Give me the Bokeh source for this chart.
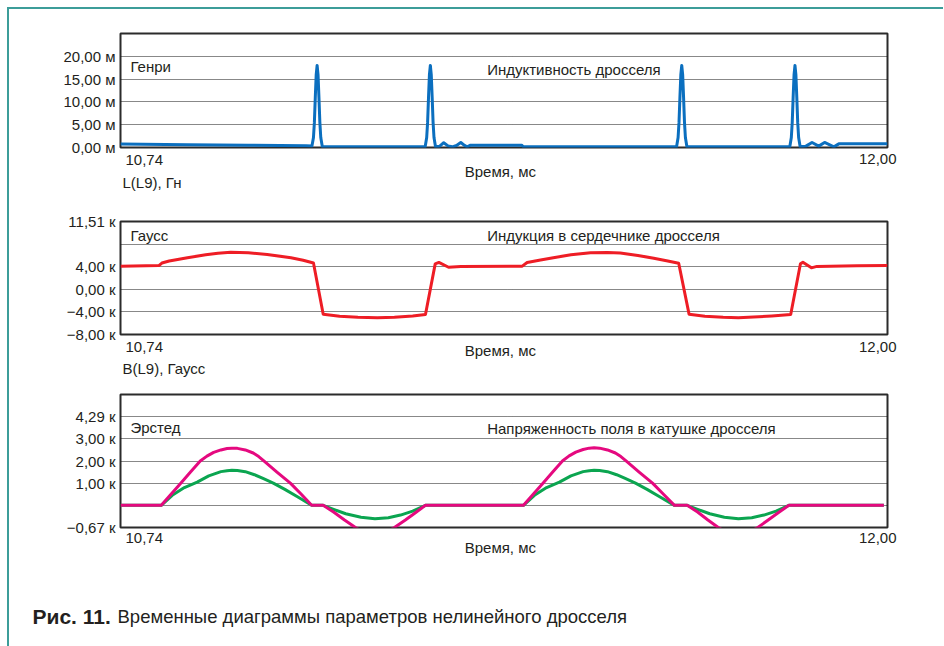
from bokeh.plotting import figure
from bokeh.models import Label, FixedTicker, Range1d
from bokeh.layouts import column
from bokeh.embed import file_html
from bokeh.resources import INLINE

# ---------------- data ----------------
x_start, x_end = 10.74, 12.00
x_tick_labels = ["10,74", "12,00"]
x_title = "Время, мс"

# Panel 1: inductance L(L9), mH
l_time = [10.74, 10.85, 10.95, 11.045,
          11.0545, 11.057, 11.0585, 11.060, 11.0615, 11.063, 11.0645, 11.066, 11.0675, 11.069, 11.0715,
          11.10, 11.20, 11.2405,
          11.243, 11.2445, 11.246, 11.2475, 11.249, 11.2505, 11.252, 11.2535, 11.255, 11.2575,
          11.264, 11.271, 11.278, 11.285, 11.292, 11.299, 11.305, 11.3096, 11.315, 11.399, 11.402,
          11.50, 11.60, 11.6535,
          11.656, 11.6575, 11.659, 11.6605, 11.662, 11.6635, 11.665, 11.6665, 11.668, 11.6705,
          11.75, 11.8395,
          11.842, 11.8435, 11.845, 11.8465, 11.848, 11.8495, 11.851, 11.8525, 11.854, 11.8565,
          11.866, 11.876, 11.887, 11.8966, 11.912, 11.920, 12.00]
l_value = [0.75, 0.6, 0.5, 0.38,
           0.35, 2.2, 5.5, 11.0, 16.0, 18.0, 16.0, 11.0, 5.5, 2.2, 0.2,
           0.15, 0.15, 0.15,
           2.2, 5.5, 11.0, 16.0, 18.0, 16.0, 11.0, 5.5, 2.2, 0.15,
           0.25, 1.05, 0.35, 0.15, 0.45, 1.1, 0.45, 0.15, 0.5, 0.5, 0.15,
           0.15, 0.15, 0.15,
           2.2, 5.5, 11.0, 16.0, 18.0, 16.0, 11.0, 5.5, 2.2, 0.15,
           0.15, 0.15,
           2.2, 5.5, 11.0, 16.0, 18.0, 16.0, 11.0, 5.5, 2.2, 0.15,
           0.3, 1.1, 0.3, 1.1, 0.15, 0.8, 0.8]
l_ticks = [0, 5, 10, 15, 20]
l_tick_labels = ["0,00 м", "5,00 м", "10,00 м", "15,00 м", "20,00 м"]
l_range = (0, 25)

# Panel 2: flux density B(L9), kGauss
b_time = [10.74, 10.803, 10.808, 10.82, 10.85, 10.88, 10.90, 10.921, 10.95, 10.981, 11.02, 11.04, 11.057,
          11.073, 11.10, 11.13, 11.162, 11.19, 11.22, 11.241,
          11.257, 11.263, 11.279, 11.299, 11.40,
          11.408, 11.43, 11.451, 11.48, 11.512, 11.54, 11.561, 11.59, 11.616, 11.637, 11.657,
          11.674, 11.70, 11.73, 11.755, 11.78, 11.81, 11.841,
          11.857, 11.861, 11.875, 11.884, 11.95, 12.00]
b_value = [4.1, 4.2, 4.65, 5.0, 5.6, 6.1, 6.4, 6.55, 6.45, 6.17, 5.6, 5.15, 4.65,
           -4.4, -4.75, -4.95, -5.05, -4.95, -4.72, -4.46,
           4.5, 4.75, 3.9, 4.05, 4.1,
           4.75, 5.2, 5.6, 6.1, 6.45, 6.5, 6.42, 6.0, 5.5, 5.05, 4.6,
           -4.4, -4.75, -4.95, -5.05, -4.92, -4.72, -4.46,
           4.53, 4.8, 3.8, 4.05, 4.15, 4.2]
b_ticks = [-8, -4, 0, 4, 8, 12]
b_tick_labels = ["−8,00 к", "−4,00 к", "0,00 к", "4,00 к", "", "11,51 к"]
b_range = (-8, 12)

# Panel 3: field strength H, kOe (two traces)
h_time_mag = [10.74, 10.807, 10.823, 10.839, 10.855, 10.871, 10.882, 10.893, 10.905, 10.915, 10.923, 10.932,
              10.945, 10.958, 10.967, 10.975, 10.997, 11.019, 11.037, 11.054,
              11.073, 11.09, 11.108, 11.126, 11.142, 11.158, 11.174, 11.19, 11.208, 11.225, 11.241,
              11.402, 11.418, 11.434, 11.45, 11.466, 11.477, 11.488, 11.50, 11.510, 11.518, 11.527,
              11.540, 11.553, 11.562, 11.570, 11.592, 11.614, 11.632, 11.650,
              11.671, 11.688, 11.705, 11.722, 11.738, 11.754, 11.770, 11.787, 11.804, 11.821, 11.838,
              11.994]
h_value_mag = [0, 0, 0.5, 1.0, 1.5, 2.0, 2.22, 2.39, 2.5, 2.56, 2.58, 2.57,
               2.5, 2.36, 2.2, 2.02, 1.5, 1.0, 0.5, 0,
               0, -0.3, -0.66, -1.0, -1.25, -1.35, -1.25, -1.0, -0.66, -0.32, 0,
               0, 0.5, 1.0, 1.5, 2.0, 2.23, 2.4, 2.52, 2.58, 2.6, 2.58,
               2.5, 2.36, 2.2, 2.02, 1.5, 1.0, 0.5, 0,
               0, -0.3, -0.66, -1.0, -1.25, -1.35, -1.25, -1.0, -0.66, -0.32, 0,
               0]
h_time_grn = [10.74, 10.807, 10.825, 10.845, 10.866, 10.885, 10.905, 10.915, 10.923, 10.932, 10.945, 10.96,
              10.975, 10.991, 11.01, 11.03, 11.054,
              11.073, 11.09, 11.11, 11.135, 11.158, 11.18, 11.20, 11.22, 11.241,
              11.402, 11.42, 11.44, 11.461, 11.48, 11.50, 11.510, 11.518, 11.527, 11.540, 11.555,
              11.57, 11.586, 11.605, 11.625, 11.650,
              11.671, 11.688, 11.708, 11.732, 11.755, 11.777, 11.797, 11.817, 11.838, 11.994]
h_value_grn = [0, 0, 0.45, 0.8, 1.05, 1.33, 1.52, 1.56, 1.58, 1.57, 1.52, 1.38,
               1.2, 1.0, 0.72, 0.4, 0,
               0, -0.18, -0.38, -0.54, -0.61, -0.56, -0.44, -0.26, 0,
               0, 0.45, 0.8, 1.05, 1.33, 1.52, 1.56, 1.58, 1.57, 1.52, 1.38,
               1.2, 1.0, 0.72, 0.4, 0,
               0, -0.18, -0.38, -0.54, -0.61, -0.56, -0.44, -0.26, 0, 0]
h_ticks = [-1, 0, 1, 2, 3, 4]
h_tick_labels = ["−0,67 к", "", "1,00 к", "2,00 к", "3,00 к", "4,29 к"]
h_range = (-1, 5)

panel_units = ["Генри", "Гаусс", "Эрстед"]
panel_titles = ["Индуктивность дросселя", "Индукция в сердечнике дросселя",
                "Напряженность поля в катушке дросселя"]
trace_names = ["L(L9), Гн", "B(L9), Гаусс"]
caption_bold = "Рис. 11."
caption_text = "Временные диаграммы параметров нелинейного дросселя"

# ---------------- style / layout ----------------
FONT = "Liberation Sans"
TXT = "#231f20"
BLUE = "#0b6fbf"
RED = "#ee1d25"
MAGENTA = "#e5097f"
GREEN = "#0ba550"
TEAL = "#3c9d99"
W = 934
BL, FW = 111, 767            # left border and frame width of every panel
BR = W - BL - FW
PX_PER_MS = FW / (x_end - x_start)
OVERLAP = 12                 # text strips slide up over the panel's bottom border


def make_panel(height, top, frame_h, yr, ticks, labels):
    bottom = height - top - frame_h
    p = figure(width=W, height=height, output_backend="svg", toolbar_location=None,
               x_range=Range1d(x_start, x_end), y_range=Range1d(*yr),
               x_axis_location=None, min_border_left=BL, min_border_right=BR,
               min_border_top=top, min_border_bottom=bottom, title=None)
    p.frame_align = False
    p.background_fill_color = "white"
    p.border_fill_color = "white"
    p.outline_line_color = "#2b2b2b"
    p.outline_line_width = 2
    ax = p.yaxis[0]
    ax.ticker = FixedTicker(ticks=ticks)
    ax.major_label_overrides = {t: s for t, s in zip(ticks, labels)}
    ax.axis_line_color = None
    ax.major_tick_line_color = None
    ax.minor_tick_line_color = None
    ax.major_tick_out = 0
    ax.major_tick_in = 0
    ax.major_label_standoff = 5
    ax.major_label_text_font = FONT
    ax.major_label_text_font_size = "15px"
    ax.major_label_text_color = TXT
    p.xgrid.visible = False
    p.ygrid.ticker = FixedTicker(ticks=ticks)
    p.ygrid.grid_line_color = "#111111"
    p.ygrid.grid_line_dash = "1 1"
    p.ygrid.grid_line_width = 1
    return p


def make_strip(height):
    # transparent text strip laid over the bottom edge of a panel, sharing its time scale
    p = figure(width=W, height=height, output_backend="svg", toolbar_location=None,
               x_range=Range1d(x_start - BL / PX_PER_MS, x_start + (W - BL) / PX_PER_MS),
               y_range=Range1d(height, 0),
               x_axis_location=None, y_axis_location=None, min_border=0,
               min_border_left=0, min_border_right=0, min_border_top=0, min_border_bottom=0,
               title=None, styles={"margin-top": f"-{OVERLAP}px"})
    p.frame_align = False
    p.outline_line_color = None
    p.background_fill_color = None
    p.border_fill_color = None
    p.grid.visible = False
    return p


def lab(p, text, x, y, xo=0, yo=0, align="left", size="15px", style="normal"):
    p.add_layout(Label(x=x, y=y, x_offset=xo, y_offset=yo, text=text, text_align=align,
                       text_baseline="middle", text_font=FONT, text_font_size=size,
                       text_color=TXT, text_font_style=style))


title_x = 11.3424
mid_x = 11.364

# Panel 1  (page y 9..159, frame 33..147)
p1 = make_panel(150, 24, 114, l_range, l_ticks, l_tick_labels)
p1.line(l_time, l_value, line_color=BLUE, line_width=3, line_join="round")
lab(p1, panel_units[0], x_start, 17.8, xo=10)
lab(p1, panel_titles[0], title_x, 17.0)
s1 = make_strip(46)          # page y 147..193
lab(s1, x_tick_labels[0], x_start, 12, xo=5)
lab(s1, x_tick_labels[1], x_end, 11.5, xo=9, align="right")
lab(s1, x_title, mid_x, 24, align="center")
lab(s1, trace_names[0], x_start, 34.5, xo=2)

# Panel 2  (page y 193..346, frame 221..334)
p2 = make_panel(153, 28, 113, b_range, b_ticks, b_tick_labels)
p2.line(b_time, b_value, line_color=RED, line_width=3, line_join="round")
lab(p2, panel_units[1], x_start, 9.5, xo=10)
lab(p2, panel_titles[1], title_x, 9.5)
s2 = make_strip(51)          # page y 334..385
lab(s2, x_tick_labels[0], x_start, 12.5, xo=5)
lab(s2, x_tick_labels[1], x_end, 12.5, xo=9, align="right")
lab(s2, x_title, mid_x, 16, align="center")
lab(s2, trace_names[1], x_start, 34, xo=2)

# Panel 3  (page y 385..539, frame 394..527)
p3 = make_panel(154, 9, 133, h_range, h_ticks, h_tick_labels)
p3.line(h_time_grn, h_value_grn, line_color=GREEN, line_width=3, line_join="round")
p3.line(h_time_mag, h_value_mag, line_color=MAGENTA, line_width=3, line_join="round")
lab(p3, panel_units[2], x_start, 3.52, xo=10)
lab(p3, panel_titles[2], title_x, 3.46)
s3 = make_strip(119)         # page y 527..646
lab(s3, x_tick_labels[0], x_start, 10.5, xo=5)
lab(s3, x_tick_labels[1], x_end, 10, xo=9, align="right")
lab(s3, x_title, mid_x, 20, align="center")
lab(s3, caption_bold, x_start, 89, xo=-88, size="21px", style="bold")
lab(s3, caption_text, x_start, 89, xo=-3, size="18.5px")

layout = column(p1, s1, p2, s2, p3, s3, spacing=0,
                styles={"margin": "7px 0 0 7px",
                        "border-left": f"2px solid {TEAL}", "border-top": f"2px solid {TEAL}"})

open("out.html", "w").write(file_html(layout, INLINE, title="Рис. 11"))
